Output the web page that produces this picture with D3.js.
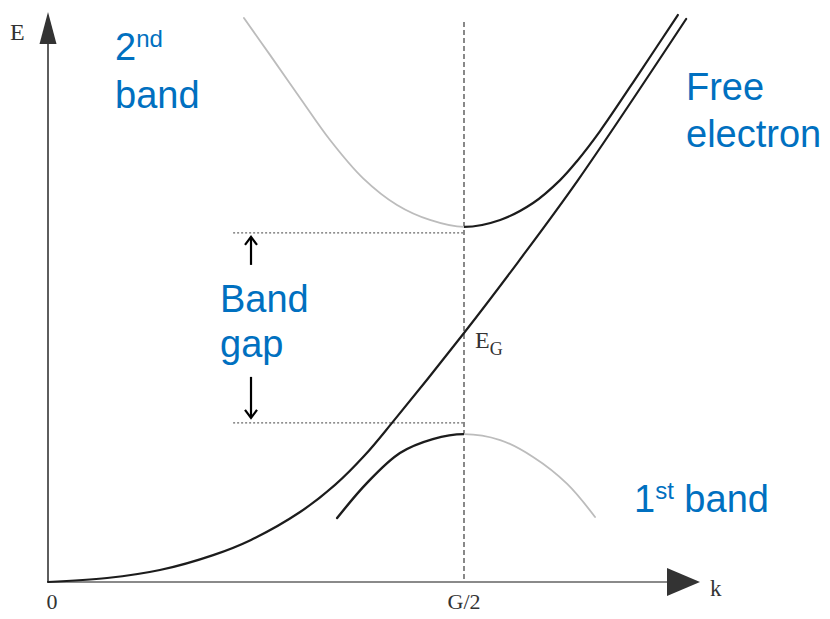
<!DOCTYPE html>
<html>
<head>
<meta charset="utf-8">
<script src="https://cdn.jsdelivr.net/npm/d3@7"></script>
<style>
  html, body { margin: 0; padding: 0; background: #fff; }
  svg { display: block; }
</style>
</head>
<body>
<svg id="chart" width="830" height="619"></svg>
<script>
// Wave vector k in units of G/2, energy E in units of the free-electron energy at G/2.
const freeElectronK = [0, 0.142, 0.269, 0.397, 0.488, 0.606, 0.690, 0.762, 0.827, 1.0, 1.130, 1.274, 1.534];
const freeElectronE = [0, 0.016, 0.048, 0.108, 0.169, 0.281, 0.390, 0.510, 0.639, 1.0, 1.285, 1.614, 2.261];

// 2nd band (minimum at G/2): faint to the left, solid to the right
const band2K = [0.471, 0.534, 0.606, 0.678, 0.757, 0.839, 0.918, 1.0, 1.087, 1.166, 1.231, 1.272, 1.327, 1.423, 1.514];
const band2E = [2.265, 2.116, 1.944, 1.775, 1.622, 1.514, 1.454, 1.426, 1.454, 1.522, 1.614, 1.691, 1.811, 2.048, 2.277];

// 1st band (maximum at G/2): solid to the left, faint to the right
const band1K = [0.695, 0.767, 0.846, 0.925, 1.0, 1.087, 1.166, 1.248, 1.315];
const band1E = [0.257, 0.398, 0.518, 0.574, 0.594, 0.570, 0.502, 0.394, 0.261];

// Band-gap marker levels and where the dotted guides start
const gapLevels = [1.402, 0.639];
const gapGuideStartK = 0.445;
const gapArrowK = 0.488;

// Axis tick labels
const xTickValues = [0, 1];
const xTickLabels = ["0", "G/2"];

const svg = d3.select("#chart");

const x = d3.scaleLinear().domain([0, 1]).range([48, 464]);
const y = d3.scaleLinear().domain([0, 1]).range([582, 333]);

const zip = (ks, es) => ks.map((k, i) => ({ k, E: es[i] }));
const line = d3.line().x(d => x(d.k)).y(d => y(d.E)).curve(d3.curveCatmullRom.alpha(0.5));

const dark = "#1c1c1c";
const faint = "#bcbcbc";
const axisColor = "#5e5e5e";

// Clip regions either side of G/2, used to shade the two halves of each band
const defs = svg.append("defs");
defs.append("clipPath").attr("id", "leftOfZone")
  .append("rect").attr("x", 0).attr("y", 0).attr("width", x(1)).attr("height", 619);
defs.append("clipPath").attr("id", "rightOfZone")
  .append("rect").attr("x", x(1)).attr("y", 0).attr("width", 830 - x(1)).attr("height", 619);

// Dashed vertical guide at G/2
svg.append("line")
  .attr("x1", x(1)).attr("x2", x(1))
  .attr("y1", 22).attr("y2", y(0))
  .attr("stroke", "#4a4a4a").attr("stroke-width", 1.3)
  .attr("stroke-dasharray", "5,3");

// Dotted band-gap guides
svg.selectAll("line.gap")
  .data(gapLevels)
  .join("line")
  .attr("class", "gap")
  .attr("x1", x(gapGuideStartK)).attr("x2", x(1))
  .attr("y1", d => y(d)).attr("y2", d => y(d))
  .attr("stroke", "#6a6a6a").attr("stroke-width", 1.2)
  .attr("stroke-dasharray", "2,2");

// Axes
svg.append("line")
  .attr("x1", x(0)).attr("x2", x(0))
  .attr("y1", y(0)).attr("y2", 40)
  .attr("stroke", axisColor).attr("stroke-width", 2);
svg.append("path")
  .attr("d", `M${x(0)},12 L${x(0) - 8.5},44 L${x(0) + 8.5},44 Z`)
  .attr("fill", "#333");

svg.append("line")
  .attr("x1", x(0)).attr("x2", 670)
  .attr("y1", y(0)).attr("y2", y(0))
  .attr("stroke", "#8a8a8a").attr("stroke-width", 2);
svg.append("path")
  .attr("d", `M700,${y(0)} L667,${y(0) - 14} L667,${y(0) + 14} Z`)
  .attr("fill", "#333");

// Curves
const curves = [
  { pts: zip(band2K, band2E), color: faint, w: 1.8, clip: "leftOfZone" },
  { pts: zip(band2K, band2E), color: dark, w: 2.2, clip: "rightOfZone" },
  { pts: zip(band1K, band1E), color: faint, w: 1.8, clip: "rightOfZone" },
  { pts: zip(band1K, band1E), color: dark, w: 2.4, clip: "leftOfZone" },
  { pts: zip(freeElectronK, freeElectronE), color: dark, w: 2.2, clip: null }
];
svg.selectAll("path.curve")
  .data(curves)
  .join("path")
  .attr("class", "curve")
  .attr("d", d => line(d.pts))
  .attr("clip-path", d => d.clip ? `url(#${d.clip})` : null)
  .attr("fill", "none")
  .attr("stroke", d => d.color)
  .attr("stroke-width", d => d.w)
  .attr("stroke-linecap", "round");

// Band-gap arrows
const arrow = (xp, yTail, yHead) => {
  const dir = yHead < yTail ? 1 : -1;
  svg.append("line")
    .attr("x1", xp).attr("x2", xp).attr("y1", yTail).attr("y2", yHead + dir)
    .attr("stroke", "#000").attr("stroke-width", 2.2);
  svg.append("path")
    .attr("d", `M${xp - 6},${yHead + dir * 8} L${xp},${yHead} L${xp + 6},${yHead + dir * 8}`)
    .attr("fill", "none").attr("stroke", "#000").attr("stroke-width", 2.2);
};
arrow(x(gapArrowK), y(gapLevels[0]) + 32, y(gapLevels[0]) + 4);
arrow(x(gapArrowK), y(gapLevels[1]) - 46, y(gapLevels[1]) - 5);

// Axis and point labels (serif)
const serif = "'Liberation Serif', 'DejaVu Serif', serif";
svg.selectAll("text.xtick")
  .data(xTickValues)
  .join("text")
  .attr("class", "xtick")
  .attr("x", (d, i) => i === 0 ? x(d) + 4 : x(d))
  .attr("y", 609)
  .attr("text-anchor", "middle")
  .attr("font-family", serif).attr("font-size", 22)
  .attr("fill", "#333")
  .text((d, i) => xTickLabels[i]);

svg.append("text").attr("x", 10).attr("y", 40)
  .attr("font-family", serif).attr("font-size", 24).attr("fill", "#333").text("E");
svg.append("text").attr("x", 710).attr("y", 596)
  .attr("font-family", serif).attr("font-size", 23).attr("fill", "#333").text("k");

const eg = svg.append("text").attr("x", 475).attr("y", 348)
  .attr("font-family", serif).attr("font-size", 24).attr("fill", "#333");
eg.append("tspan").text("E");
eg.append("tspan").attr("font-size", 18).attr("dy", 7).text("G");

// Blue annotations
const sans = "'Liberation Sans', Arial, sans-serif";
const blue = "#0070c0";
const label = (xp, yp, parts) => {
  const t = svg.append("text").attr("x", xp).attr("y", yp)
    .attr("font-family", sans).attr("font-size", 38).attr("fill", blue);
  parts.forEach(p => {
    const s = t.append("tspan").text(p.text);
    if (p.sup) s.attr("font-size", 24).attr("dy", -13);
    if (p.after) s.attr("dy", 13);
  });
};
label(115, 60, [{ text: "2" }, { text: "nd", sup: true }]);
label(115, 108, [{ text: "band" }]);
label(686, 100, [{ text: "Free" }]);
label(686, 147, [{ text: "electron" }]);
label(220, 312, [{ text: "Band" }]);
label(220, 357, [{ text: "gap" }]);
label(634, 512, [{ text: "1" }, { text: "st", sup: true }, { text: " band", after: true }]);
</script>
</body>
</html>
